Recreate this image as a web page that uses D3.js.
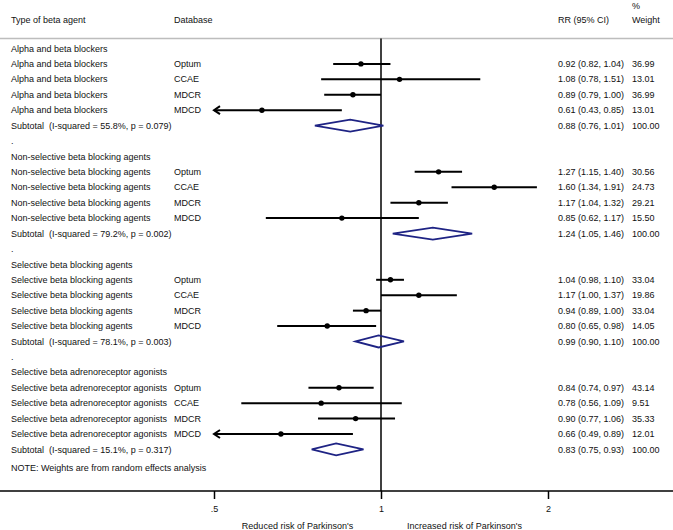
<!DOCTYPE html>
<html><head><meta charset="utf-8">
<script src="https://cdn.jsdelivr.net/npm/d3@7/dist/d3.min.js"></script>
<style>
body{margin:0;background:#fff;}
text{font-family:"Liberation Sans",Arial,sans-serif;font-size:9px;fill:#111;white-space:pre;}
</style></head>
<body><svg id="c" width="673" height="530"></svg>
<script>
const groups = ["Alpha and beta blockers","Non-selective beta blocking agents","Selective beta blocking agents","Selective beta adrenoreceptor agonists"];
const databases = ["Optum","CCAE","MDCR","MDCD"];
const rr = [[0.92,1.08,0.89,0.61],[1.27,1.60,1.17,0.85],[1.04,1.17,0.94,0.80],[0.84,0.78,0.90,0.66]];
const lo = [[0.82,0.78,0.79,0.43],[1.15,1.34,1.04,0.62],[0.98,1.00,0.89,0.65],[0.74,0.56,0.77,0.49]];
const hi = [[1.04,1.51,1.00,0.85],[1.40,1.91,1.32,1.17],[1.10,1.37,1.00,0.98],[0.97,1.09,1.06,0.89]];
const weights = [[36.99,13.01,36.99,13.01],[30.56,24.73,29.21,15.50],[33.04,19.86,33.04,14.05],[43.14,9.51,35.33,12.01]];
const subRR = [0.88,1.24,0.99,0.83];
const subLo = [0.76,1.05,0.90,0.75];
const subHi = [1.01,1.46,1.10,0.93];
const iSquared = ["55.8%","79.2%","78.1%","15.1%"];
const pValues = ["0.079","0.002","0.003","0.317"];
const tickValues = [0.5,1,2];
const tickLabels = [".5","1","2"];

const svg = d3.select("#c");
const x = d3.scaleLog().domain([0.5,2]).range([214,548]);
const rowY = i => 48.5 + i*15.42;
const colType = 11, colDb = 174, colRR = 558, colW = 632;
const navy = "#1e2384";
const fmt = v => v.toFixed(2);

// header
svg.append("text").attr("x",colType).attr("y",20).attr("dy","0.35em").text("Type of beta agent");
svg.append("text").attr("x",colDb).attr("y",20).attr("dy","0.35em").text("Database");
svg.append("text").attr("x",colRR).attr("y",20).attr("dy","0.35em").text("RR (95% CI)");
svg.append("text").attr("x",colW).attr("y",6).attr("dy","0.35em").text("%");
svg.append("text").attr("x",colW).attr("y",20).attr("dy","0.35em").text("Weight");
svg.append("line").attr("x1",0).attr("x2",673).attr("y1",38.5).attr("y2",38.5).attr("stroke","#bdbdbd").attr("stroke-width",1.5);

// axis
const axisY = 491;
svg.append("line").attr("x1",x(1)).attr("x2",x(1)).attr("y1",38.5).attr("y2",axisY).attr("stroke","#000").attr("stroke-width",1.5);
const axisG = svg.append("g").attr("transform",`translate(0,${axisY})`);
axisG.append("line").attr("x1",0).attr("x2",673).attr("stroke","#000").attr("stroke-width",1.5);
const ax = d3.axisBottom(x).tickValues(tickValues).tickFormat((d,i)=>tickLabels[i]).tickSize(8).tickPadding(7);
axisG.call(ax);
axisG.select(".domain").remove();
axisG.selectAll(".tick line").attr("stroke","#000").attr("stroke-width",1.5);
axisG.selectAll(".tick text").style("font-family","Liberation Sans, Arial, sans-serif").style("font-size","9px").attr("fill","#111");

svg.append("text").attr("x",(x(0.5)+x(1))/2).attr("y",526).attr("dy","0.35em").attr("text-anchor","middle").text("Reduced risk of Parkinson's");
svg.append("text").attr("x",(x(1)+x(2))/2).attr("y",526).attr("dy","0.35em").attr("text-anchor","middle").text("Increased risk of Parkinson's");

// rows
let r = 0;
groups.forEach((g,gi)=>{
  svg.append("text").attr("x",colType).attr("y",rowY(r)).attr("dy","0.35em").text(g);
  r++;
  databases.forEach((db,di)=>{
    const y = rowY(r);
    svg.append("text").attr("x",colType).attr("y",y).attr("dy","0.35em").text(g);
    svg.append("text").attr("x",colDb).attr("y",y).attr("dy","0.35em").text(db);
    svg.append("text").attr("x",colRR).attr("y",y).attr("dy","0.35em").text(`${fmt(rr[gi][di])} (${fmt(lo[gi][di])}, ${fmt(hi[gi][di])})`);
    svg.append("text").attr("x",colW).attr("y",y).attr("dy","0.35em").text(fmt(weights[gi][di]));
    const l = Math.max(lo[gi][di], x.domain()[0]);
    const h = Math.min(hi[gi][di], x.domain()[1]);
    svg.append("line").attr("x1",x(l)).attr("x2",x(h)).attr("y1",y).attr("y2",y).attr("stroke","#000").attr("stroke-width",2);
    if (lo[gi][di] < x.domain()[0]) {
      const x0 = x(l);
      svg.append("path").attr("d",`M${x0+6},${y-4}L${x0},${y}L${x0+6},${y+4}`).attr("fill","none").attr("stroke","#000").attr("stroke-width",2);
    }
    svg.append("circle").attr("cx",x(rr[gi][di])).attr("cy",y).attr("r",2.7).attr("fill","#000");
    r++;
  });
  const y = rowY(r);
  svg.append("text").attr("x",colType).attr("y",y).attr("dy","0.35em").text(`Subtotal  (I-squared = ${iSquared[gi]}, p = ${pValues[gi]})`);
  svg.append("text").attr("x",colRR).attr("y",y).attr("dy","0.35em").text(`${fmt(subRR[gi])} (${fmt(subLo[gi])}, ${fmt(subHi[gi])})`);
  svg.append("text").attr("x",colW).attr("y",y).attr("dy","0.35em").text(fmt(100));
  const dh = 6;
  svg.append("path").attr("d",`M${x(subLo[gi])},${y}L${x(subRR[gi])},${y-dh}L${x(subHi[gi])},${y}L${x(subRR[gi])},${y+dh}Z`)
    .attr("fill","none").attr("stroke",navy).attr("stroke-width",1.8);
  r++;
  if (gi < groups.length-1) {
    svg.append("text").attr("x",colType).attr("y",rowY(r)).attr("dy","0.35em").text(".");
    r++;
  }
});
svg.append("text").attr("x",colType).attr("y",468).attr("dy","0.35em").text("NOTE: Weights are from random effects analysis");
</script></body></html>
